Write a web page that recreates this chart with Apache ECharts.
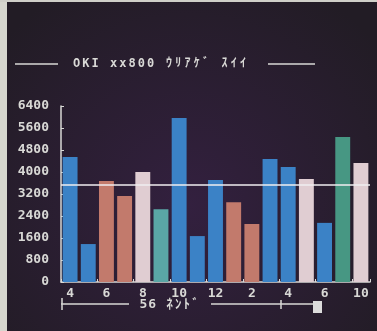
<!DOCTYPE html>
<html><head><meta charset="utf-8">
<script src="https://cdn.jsdelivr.net/npm/echarts@6/dist/echarts.min.js"></script>
<style>html,body{margin:0;padding:0;background:#231d27}#c{width:377px;height:331px}</style>
</head><body><div id="c"></div>
<script>
var categories = ['4','5','6','7','8','9','10','11','12','1','2','3','4','5','6','8','10'];
var sales = [4550,1380,3670,3130,4000,2650,5960,1670,3710,2900,2110,4470,4180,3750,2150,5270,4330];
var kinds = ['b','b','s','s','w','c','b','b','b','s','s','b','b','w','b','g','w'];
var yTicks = [0,800,1600,2400,3200,4000,4800,5600,6400];
var titleText = 'OKI xx800 ｳﾘｱｹﾞ ｽｲｲ';
var yearText = '56 ﾈﾝﾄﾞ';

var palette = {b:'#3b82c6', s:'#c27a6c', w:'#e0cdd2', c:'#5aa6a6', g:'#479783'};
var mono = '"DejaVu Sans Mono", "Noto Sans CJK JP", monospace';
var fg = '#d9d9d6';

function charRow(text, x0, y, pitch, size) {
  var out = [];
  for (var i = 0; i < text.length; i++) {
    var ch = text.charAt(i);
    if (ch === ' ') continue;
    out.push({type:'text', x: x0 + i*pitch + pitch/2, y: y,
      style:{text: ch, fill: fg, font: 'bold ' + size + 'px ' + mono, align:'center', verticalAlign:'middle'}});
  }
  return out;
}

var chart = echarts.init(document.getElementById('c'));
var gfx = [
  {type:'rect', shape:{x:0,y:0,width:7,height:331}, style:{fill:'#d6d6ce'}},
  {type:'rect', shape:{x:0,y:0,width:377,height:2}, style:{fill:'#cfcfc8'}},
  {type:'line', shape:{x1:15,y1:64,x2:58,y2:64}, style:{stroke:fg, lineWidth:1.5}},
  {type:'line', shape:{x1:268,y1:64,x2:315,y2:64}, style:{stroke:fg, lineWidth:1.5}},
  {type:'line', shape:{x1:61,y1:304,x2:129,y2:304}, style:{stroke:fg, lineWidth:1.5}},
  {type:'line', shape:{x1:62,y1:298,x2:62,y2:310}, style:{stroke:fg, lineWidth:1.5}},
  {type:'line', shape:{x1:211,y1:304,x2:313,y2:304}, style:{stroke:fg, lineWidth:1.5}},
  {type:'line', shape:{x1:281,y1:300,x2:281,y2:309}, style:{stroke:fg, lineWidth:1.5}},
  {type:'rect', shape:{x:313,y:301,width:9,height:12}, style:{fill:'#dcdcdc'}}
].concat(charRow(titleText, 72, 64, 9.25, 12)).concat(charRow(yearText, 139, 305, 8.7, 13));

chart.setOption({
  backgroundColor: {type:'radial', x:0.5, y:0.62, r:0.75, colorStops:[{offset:0,color:'#33203f'},{offset:1,color:'#221c25'}]},
  animation: false,
  grid: {left:61, right:7, top:106, bottom:49},
  xAxis: {
    type:'category', data: categories,
    axisLine:{lineStyle:{color:fg, width:1.5}},
    axisTick:{show:true, interval:1, length:3, inside:true, lineStyle:{color:fg}},
    axisLabel:{interval:1, color:fg, fontFamily:mono, fontWeight:'bold', fontSize:13, margin:5}
  },
  yAxis: {
    type:'value', min:yTicks[0], max:yTicks[yTicks.length-1], interval:800,
    splitLine:{show:false},
    axisLine:{show:true, lineStyle:{color:fg, width:1.5}},
    axisTick:{show:true, inside:true, length:3, lineStyle:{color:fg}},
    axisLabel:{color:fg, fontFamily:mono, fontWeight:'bold', fontSize:13, margin:12,
      formatter:function(v){return String(v);}}
  },
  series: [{
    type:'bar', barCategoryGap:'18%',
    data: sales.map(function(v,i){return {value:v, itemStyle:{color:palette[kinds[i]]}};}),
    markLine: {silent:true, symbol:['none','none'], label:{show:false},
      lineStyle:{color:'#f0eef0', width:1.5, type:'solid'},
      data:[{type:'average'}]}
  }],
  graphic: gfx
});
</script></body></html>
